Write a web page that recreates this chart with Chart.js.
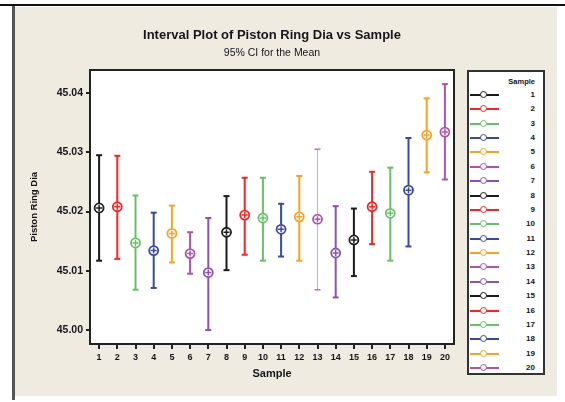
<!DOCTYPE html>
<html>
<head>
<meta charset="utf-8">
<script src="https://cdn.jsdelivr.net/npm/chart.js@4.4.0/dist/chart.umd.min.js"></script>
<style>
  html, body { margin: 0; padding: 0; background: #fff; }
  #wrap { position: relative; width: 565px; height: 402px; overflow: hidden; font-family: "Liberation Sans", Arial, sans-serif; color: #15151c; }
  #chart { position: absolute; left: 0; top: 0; }
  .title { position: absolute; left: 90px; width: 364px; text-align: center; white-space: nowrap; }
  #t1 { top: 27px; font-size: 13px; font-weight: bold; }
  #t2 { top: 46px; font-size: 10.5px; }
  #legend { position: absolute; left: 467px; top: 70px; width: 78px; height: 305px; box-sizing: border-box; border: 2px solid #333; background: #fff; }
  #legend .head { position: absolute; right: 8px; top: 5px; font-size: 7.5px; font-weight: bold; }
  #legend .row { position: absolute; left: 0; width: 74px; height: 10px; }
  #legend .ln { position: absolute; left: 1px; top: 4px; width: 29px; height: 2px; }
  #legend .mk { position: absolute; left: 11px; top: 1px; width: 5px; height: 5px; border-radius: 50%; border: 1.5px solid; background: #fff; }
  #legend .num { position: absolute; right: 8px; top: 0; font-size: 8px; font-weight: bold; line-height: 10px; }
</style>
</head>
<body>
<div id="wrap">
  <canvas id="chart" width="565" height="402"></canvas>
  <div class="title" id="t1">Interval Plot of Piston Ring Dia vs Sample</div>
  <div class="title" id="t2">95% CI for the Mean</div>
  <div id="legend"><div class="head">Sample</div></div>
</div>
<script>
// Dados (IC 95% da média por amostra)
const categories = ['1', '2', '3', '4', '5', '6', '7', '8', '9', '10',
                    '11', '12', '13', '14', '15', '16', '17', '18', '19', '20'];
const means = [45.0206, 45.0208, 45.0147, 45.0134, 45.0163, 45.0129, 45.0097, 45.0165, 45.0194, 45.0189,
               45.0170, 45.0191, 45.0187, 45.0130, 45.0152, 45.0208, 45.0197, 45.0236, 45.0329, 45.0334];
const lower = [45.0117, 45.0120, 45.0068, 45.0071, 45.0114, 45.0095, 45.0000, 45.0101, 45.0127, 45.0117,
               45.0124, 45.0117, 45.0068, 45.0055, 45.0091, 45.0145, 45.0117, 45.0141, 45.0266, 45.0254];
const upper = [45.0295, 45.0294, 45.0227, 45.0198, 45.0210, 45.0165, 45.0189, 45.0226, 45.0257, 45.0257,
               45.0213, 45.0260, 45.0305, 45.0209, 45.0205, 45.0267, 45.0274, 45.0324, 45.0391, 45.0415];
const yTicks = [45.00, 45.01, 45.02, 45.03, 45.04];

// Ciclo de cores do Minitab
const palette = ['#1a1a1a', '#ff2020', '#66c166', '#3848a8', '#ffa020', '#b050b0', '#8a50c0'];
const colorOf = i => palette[i % palette.length];

const textColor = '#15151c';

// Legenda em HTML
const legendEl = document.getElementById('legend');
categories.forEach((cat, i) => {
    const row = document.createElement('div');
    row.className = 'row';
    row.style.top = Math.round(18 + i * 14.37) + 'px';
    row.innerHTML = `<div class="ln" style="background:${colorOf(i)}"></div>` +
                    `<div class="mk" style="border-color:${colorOf(i)}"></div>` +
                    `<div class="num">${cat}</div>`;
    legendEl.appendChild(row);
});

// Fundo, moldura e área do gráfico
const framePlugin = {
    id: 'frame',
    beforeDraw(chart) {
        const { ctx, chartArea: a } = chart;
        ctx.save();
        ctx.fillStyle = '#fff';
        ctx.fillRect(0, 0, chart.width, chart.height);
        ctx.fillStyle = '#efebe0';
        ctx.fillRect(15, 7, 542, 389);
        ctx.fillStyle = '#111';
        ctx.fillRect(0, 4, 565, 2);
        ctx.fillStyle = '#555';
        ctx.fillRect(12, 6, 3, 394);
        ctx.fillStyle = '#fff';
        ctx.fillRect(a.left, a.top, a.right - a.left, a.bottom - a.top);
        ctx.restore();
    },
    afterDraw(chart) {
        const { ctx, chartArea: a } = chart;
        ctx.save();
        ctx.strokeStyle = '#222';
        ctx.lineWidth = 2;
        ctx.strokeRect(a.left, a.top, a.right - a.left, a.bottom - a.top);
        ctx.restore();
    }
};

// Um dataset por intervalo (linha vertical com "caps")
const intervalSets = categories.map((cat, i) => ({
    type: 'line',
    data: [{ x: cat, y: lower[i] }, { x: cat, y: upper[i] }],
    borderColor: i === 12 ? '#dca0dc' : colorOf(i),
    borderWidth: i === 12 ? 1 : 2,
    pointStyle: 'line',
    pointRadius: 3,
    pointBorderWidth: i === 12 ? 1.5 : 2,
    pointBorderColor: i === 12 ? '#c070c0' : colorOf(i),
    order: 3
}));

const meanCircle = {
    type: 'scatter',
    data: categories.map((cat, i) => ({ x: cat, y: means[i] })),
    pointStyle: 'circle',
    pointRadius: 4.5,
    pointBorderWidth: 1.8,
    pointBorderColor: categories.map((c, i) => colorOf(i)),
    pointBackgroundColor: '#fff',
    order: 2
};
const meanCross = {
    type: 'scatter',
    data: categories.map((cat, i) => ({ x: cat, y: means[i] })),
    pointStyle: 'cross',
    pointRadius: 3,
    pointBorderWidth: 1.5,
    pointBorderColor: categories.map((c, i) => colorOf(i)),
    order: 1
};

new Chart(document.getElementById('chart'), {
    data: { labels: categories, datasets: [...intervalSets, meanCircle, meanCross] },
    plugins: [framePlugin],
    options: {
        responsive: false,
        animation: false,
        devicePixelRatio: 1,
        layout: { padding: { left: 0, top: 70, right: 111, bottom: 0 } },
        plugins: { legend: { display: false }, tooltip: { enabled: false } },
        scales: {
            x: {
                type: 'category',
                offset: true,
                afterFit: s => { s.height = 58; },
                grid: { drawOnChartArea: false, drawTicks: true, tickLength: 5, offset: false, color: '#222', lineWidth: 2 },
                border: { display: true, color: '#222', width: 2 },
                ticks: { color: textColor, padding: 3, maxRotation: 0, autoSkip: false,
                         font: { family: 'Liberation Sans', size: 9, weight: 'bold' } },
                title: { display: true, text: 'Sample', color: textColor, padding: { top: 4, bottom: 21 },
                         font: { family: 'Liberation Sans', size: 11, weight: 'bold' } }
            },
            y: {
                type: 'linear',
                min: 44.99764,
                max: 45.04388,
                afterFit: s => { s.width = 90; },
                afterBuildTicks: s => { s.ticks = yTicks.map(v => ({ value: v })); },
                grid: { drawOnChartArea: false, drawTicks: true, tickLength: 4, color: '#222', lineWidth: 2 },
                border: { display: true, color: '#222', width: 2 },
                ticks: { color: textColor, padding: 3, callback: v => v.toFixed(2),
                         font: { family: 'Liberation Sans', size: 10.5, weight: 'bold' } },
                title: { display: true, text: 'Piston Ring Dia', color: textColor, padding: { top: 29, bottom: 0 },
                         font: { family: 'Liberation Sans', size: 9.5, weight: 'bold' } }
            }
        }
    }
});
</script>
</body>
</html>
